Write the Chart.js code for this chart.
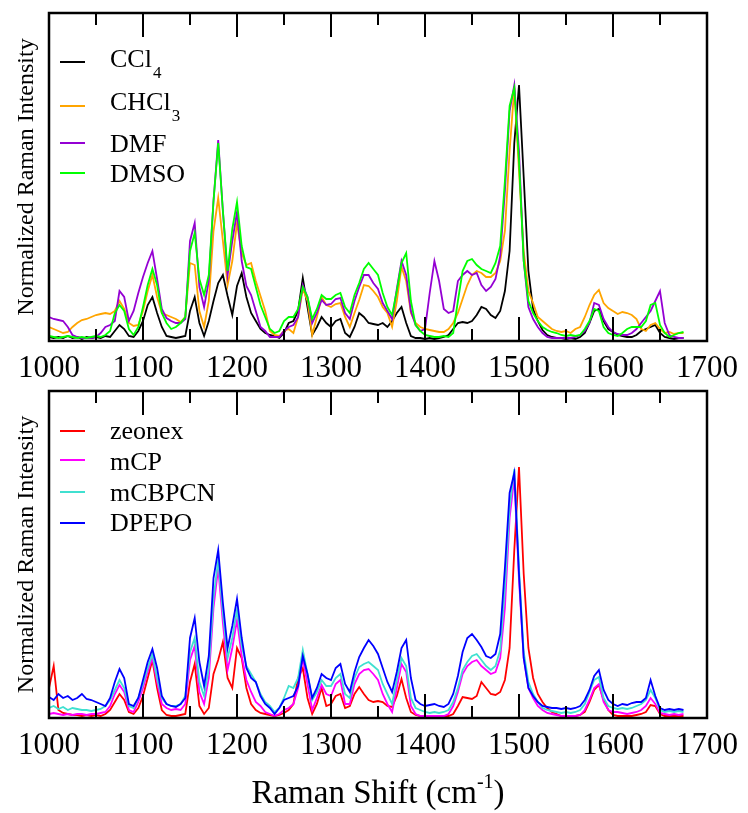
<!DOCTYPE html>
<html>
<head>
<meta charset="utf-8">
<script src="https://cdn.jsdelivr.net/npm/chart.js@4.4.0/dist/chart.umd.min.js"></script>
<style>
  html, body { margin: 0; padding: 0; background: #ffffff; }
  #wrap { position: relative; width: 748px; height: 813px; }
  canvas { position: absolute; left: 0; }
  #topChart { top: 0; }
  #botChart { top: 380px; }
</style>
</head>
<body>
<div id="wrap">
  <canvas id="topChart" width="748" height="380"></canvas>
  <canvas id="botChart" width="748" height="433"></canvas>
</div>
<script>
// Raman shift (cm-1), sampled every 5
var shift = [
  1000,1005,1010,1015,1020,1025,1030,1035,1040,1045,1050,1055,1060,1065,1070,1075,1080,1085,1090,1095,
  1100,1105,1110,1115,1120,1125,1130,1135,1140,1145,1150,1155,1160,1165,1170,1175,1180,1185,1190,1195,
  1200,1205,1210,1215,1220,1225,1230,1235,1240,1245,1250,1255,1260,1265,1270,1275,1280,1285,1290,1295,
  1300,1305,1310,1315,1320,1325,1330,1335,1340,1345,1350,1355,1360,1365,1370,1375,1380,1385,1390,1395,
  1400,1405,1410,1415,1420,1425,1430,1435,1440,1445,1450,1455,1460,1465,1470,1475,1480,1485,1490,1495,
  1500,1505,1510,1515,1520,1525,1530,1535,1540,1545,1550,1555,1560,1565,1570,1575,1580,1585,1590,1595,
  1600,1605,1610,1615,1620,1625,1630,1635,1640,1645,1650,1655,1660,1665,1670,1675
];
var majorTicks = [1000, 1100, 1200, 1300, 1400, 1500, 1600, 1700];
var minorTicks = [1050, 1150, 1250, 1350, 1450, 1550, 1650];

// top panel: solvents (intensity, arbitrary units)
var ccl4 = [
  4,3,4,3,5,3,4,2,4,3, 4,3,5,4,10,16,12,5,4,10,
  20,36,44,28,14,5,4,3,4,5, 30,44,18,5,20,40,58,66,45,26,
  55,68,44,28,20,12,8,6,5,3, 8,18,20,30,63,34,6,14,24,18,
  14,20,22,8,4,14,28,24,18,17, 16,18,14,20,28,34,18,5,3,3,
  2,3,2,3,4,6,12,18,19,18, 20,26,34,32,26,23,30,50,90,198,
  256,164,70,32,20,11,6,4,3,3, 2,3,2,4,8,18,30,32,20,12,
  9,6,5,4,4,6,10,12,14,16, 8,4,3,2,3,3
];
var chcl3 = [
  14,12,10,8,9,14,18,21,22,24, 26,27,28,27,30,40,32,18,15,16,
  30,50,66,44,28,26,24,22,19,24, 78,76,30,14,40,110,143,100,56,80,
  118,88,76,78,60,45,30,10,6,5, 10,12,8,24,52,40,6,24,44,36,
  34,37,38,24,14,28,41,56,55,50, 44,34,28,14,40,74,60,28,18,14,
  12,11,10,9,9,12,18,28,42,56, 66,70,68,64,64,68,80,110,190,253,
  170,90,50,38,24,20,16,12,10,9, 10,8,12,14,24,36,46,51,38,33,
  30,27,29,28,26,22,12,10,16,18, 12,8,9,7,8,8
];
var dmf = [
  24,22,21,20,14,6,4,3,3,3, 4,8,14,16,20,50,44,20,30,48,
  64,78,90,62,32,23,20,18,18,22, 100,118,54,34,60,140,201,130,66,100,
  129,80,55,46,30,14,10,4,4,4, 10,14,16,24,56,44,18,28,41,36,
  37,42,43,28,22,40,54,66,66,58, 52,38,30,22,52,80,66,30,16,10,
  12,48,80,60,32,28,30,60,66,70, 66,68,56,50,54,62,85,150,230,256,
  190,80,34,22,14,8,4,3,3,3, 3,3,4,6,10,18,38,36,22,14,
  9,7,6,6,8,12,18,24,30,40, 50,18,6,4,3,3
];
var dmso = [
  5,4,3,4,5,4,3,4,3,4, 5,4,6,10,28,36,30,12,6,14,
  34,56,72,56,28,18,12,14,18,24, 90,108,62,46,66,140,198,130,70,112,
  139,95,74,72,54,36,24,12,8,10, 20,24,24,32,54,44,22,32,46,42,
  42,46,48,34,28,46,58,72,78,72, 66,48,34,26,50,78,88,40,16,10,
  6,5,4,4,5,4,8,40,70,80, 82,76,72,70,68,78,95,160,235,253,
  180,80,40,28,20,14,11,9,8,6, 5,6,5,6,12,20,32,30,14,8,
  6,5,8,12,14,14,14,20,36,38, 16,8,4,6,8,9
];

// bottom panel: hosts
var zeonex = [
  30,52,8,5,4,3,3,2,3,2, 3,2,4,8,16,24,18,6,4,10,
  22,40,58,30,8,3,2,2,3,4, 36,54,12,4,10,44,58,76,40,30,
  70,60,30,14,8,5,4,3,2,3, 5,8,14,40,50,20,4,14,30,12,
  14,22,24,10,12,24,31,24,18,16, 17,16,12,11,22,39,20,6,3,2,
  1,1,1,1,2,2,4,12,21,20, 19,22,36,30,24,23,26,38,70,168,
  251,144,70,40,24,16,10,6,4,2, 2,2,2,3,6,16,28,33,18,8,
  3,2,2,2,2,3,4,6,13,12, 4,2,2,2,2,2
];
var mcp = [
  4,5,4,3,4,3,4,4,3,4, 4,5,6,12,24,33,26,8,6,16,
  30,46,60,36,14,10,8,9,8,14, 58,72,26,14,40,110,150,95,48,70,
  98,62,38,26,16,12,6,4,2,4, 8,10,14,30,60,34,8,20,33,24,
  22,34,38,14,14,34,44,48,49,44, 38,24,14,6,30,54,46,12,4,2,
  2,2,2,2,2,4,12,26,44,52, 56,58,52,48,44,46,60,110,200,240,
  138,60,30,20,12,8,5,4,3,2, 2,2,2,3,8,18,30,34,16,8,
  6,6,5,4,5,6,8,12,20,14, 5,4,3,4,3,4
];
var mcbpcn = [
  10,12,9,11,8,10,9,8,8,7, 8,9,12,18,28,38,30,12,10,20,
  34,50,64,40,20,14,12,12,14,22, 66,80,36,22,50,120,158,105,60,80,
  108,72,52,44,36,24,16,12,6,10, 20,32,30,40,68,44,18,26,38,32,
  32,40,44,24,20,40,51,54,56,52, 48,34,24,14,38,60,52,20,10,8,
  6,5,6,5,6,8,16,30,48,56, 62,64,58,52,48,52,68,130,210,249,
  150,66,36,24,16,10,8,7,6,5, 6,5,6,8,14,26,38,41,20,12,
  10,9,10,9,10,12,14,18,28,20, 8,6,7,6,7,6
];
var dpepo = [
  21,18,24,20,22,18,20,24,19,18, 16,14,12,20,36,49,40,14,12,20,
  38,56,69,50,22,14,12,11,14,20, 80,100,56,32,62,140,168,115,70,92,
  119,80,50,40,36,22,14,10,4,10, 18,20,22,32,62,44,20,30,44,40,
  38,50,54,34,26,46,61,70,78,72, 64,50,36,26,46,70,78,40,18,14,
  12,13,14,12,11,14,24,42,66,80, 84,78,71,62,60,64,84,150,225,245,
  144,60,30,22,16,12,11,10,10,9, 10,9,10,12,18,28,42,48,28,18,
  14,12,14,13,15,16,16,20,38,22, 10,8,9,8,9,8
];

var serif = "'Liberation Serif', 'DejaVu Serif', serif";

function toPoints(arr) {
  return shift.map(function (x, i) { return { x: x, y: arr[i] }; });
}

function series(label, arr, color, order) {
  return {
    label: label,
    data: toPoints(arr),
    borderColor: color,
    backgroundColor: color,
    borderWidth: 1.8,
    pointRadius: 0,
    tension: 0,
    fill: false,
    order: order
  };
}

// box, inward ticks, y title, legend with subscripts, optional x title
var panelDecor = {
  id: 'panelDecor',
  afterDatasetsDraw: function (chart, args, opts) {
    var ctx = chart.ctx, a = chart.chartArea, xs = chart.scales.x;
    ctx.save();
    ctx.strokeStyle = '#000';
    ctx.lineWidth = 2;
    majorTicks.concat(minorTicks).forEach(function (v) {
      var px = Math.round(xs.getPixelForValue(v));
      var len = majorTicks.indexOf(v) >= 0 ? 24 : 12;
      ctx.beginPath();
      ctx.moveTo(px, a.bottom); ctx.lineTo(px, a.bottom - len);
      ctx.moveTo(px, a.top); ctx.lineTo(px, a.top + len);
      ctx.stroke();
    });
    ctx.lineWidth = 2.5;
    ctx.strokeRect(a.left, a.top, a.right - a.left, a.bottom - a.top);

    // y title
    ctx.fillStyle = '#000';
    ctx.font = '24px ' + serif;
    ctx.textAlign = 'center';
    ctx.textBaseline = 'alphabetic';
    ctx.save();
    ctx.translate(33, (a.top + a.bottom) / 2);
    ctx.rotate(-Math.PI / 2);
    ctx.fillText('Normalized Raman Intensity', 0, 0);
    ctx.restore();

    // legend
    ctx.textAlign = 'left';
    chart.data.datasets.forEach(function (ds, i) {
      var ly = opts.lineY[i], by = opts.baseY[i];
      ctx.strokeStyle = ds.borderColor;
      ctx.lineWidth = 2;
      ctx.beginPath();
      ctx.moveTo(60, ly); ctx.lineTo(85, ly);
      ctx.stroke();
      var m = ds.label.match(/^(.*?)(\d+)$/);
      var main = m ? m[1] : ds.label;
      ctx.font = '26px ' + serif;
      ctx.fillText(main, 110, by);
      if (m) {
        var w = ctx.measureText(main).width;
        ctx.font = '17px ' + serif;
        ctx.fillText(m[2], 110 + w + 1, by + 11);
      }
    });

    // x title
    if (opts.xTitle) {
      var t1 = 'Raman Shift (cm', sup = '-1', t2 = ')';
      ctx.font = '33px ' + serif;
      var w1 = ctx.measureText(t1).width, w3 = ctx.measureText(t2).width;
      ctx.font = '20px ' + serif;
      var w2 = ctx.measureText(sup).width;
      var x0 = (a.left + a.right) / 2 - (w1 + w2 + w3) / 2;
      var yb = a.bottom + 85;
      ctx.font = '33px ' + serif;
      ctx.fillText(t1, x0, yb);
      ctx.fillText(t2, x0 + w1 + w2, yb);
      ctx.font = '20px ' + serif;
      ctx.fillText(sup, x0 + w1, yb - 15);
    }
    ctx.restore();
  }
};

function makeChart(id, datasets, yMax, padTop, axisH, decor) {
  return new Chart(document.getElementById(id), {
    type: 'line',
    data: { datasets: datasets },
    plugins: [panelDecor],
    options: {
      responsive: false,
      animation: false,
      devicePixelRatio: 1,
      layout: { padding: { left: 49, right: 41, top: padTop, bottom: 0 } },
      plugins: {
        legend: { display: false },
        tooltip: { enabled: false },
        panelDecor: decor
      },
      scales: {
        x: {
          type: 'linear',
          min: 1000,
          max: 1700,
          grid: { display: false, drawTicks: false },
          border: { display: false },
          afterBuildTicks: function (s) {
            s.ticks = majorTicks.map(function (v) { return { value: v }; });
          },
          afterFit: function (s) { s.height = axisH; },
          ticks: {
            color: '#000',
            padding: 9,
            maxRotation: 0,
            font: { family: serif, size: 31 },
            callback: function (v) { return String(v); }
          }
        },
        y: {
          display: false,
          min: 0,
          max: yMax
        }
      }
    }
  });
}

makeChart('topChart', [
  series('CCl4', ccl4, '#000000', 3),
  series('CHCl3', chcl3, '#ffa500', 2),
  series('DMF', dmf, '#9400d3', 1),
  series('DMSO', dmso, '#00ff00', 0)
], 328, 13, 39, {
  lineY: [62, 106, 143, 173],
  baseY: [67, 110, 152, 182],
  xTitle: false
});

makeChart('botChart', [
  series('zeonex', zeonex, '#ff0000', 3),
  series('mCP', mcp, '#ff00ff', 2),
  series('mCBPCN', mcbpcn, '#40e0d0', 1),
  series('DPEPO', dpepo, '#0000ff', 0)
], 327, 11, 95, {
  lineY: [51, 80, 112, 143],
  baseY: [59, 90, 121, 151],
  xTitle: true
});
</script>
</body>
</html>
